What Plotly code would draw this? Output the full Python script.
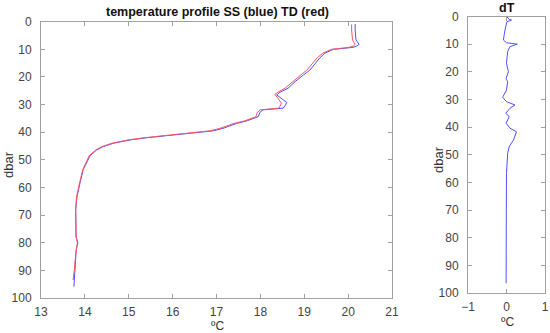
import plotly.graph_objects as go

# SS (blue) profile
ss_depth = [0.8, 3, 6.6, 7.6, 8.2, 8.8, 9.3, 10, 11.4, 13, 14.5, 17.5, 19.3, 21.7, 24.1, 25.5, 26.5,
            27.7, 29.2, 30.2, 31.3, 31.9, 32.8, 34.4, 35.9, 36.8, 38.6, 39.5, 40.7, 42.0, 42.8, 44.0,
            45.2, 46.4, 48.5, 51.2, 53.6, 58.3, 63.4, 68, 73, 77.9, 80, 81, 82.6, 86, 89.8, 93, 95.9]
ss_temp = [20.16, 20.16, 20.18, 20.22, 20.25, 20.2, 20.11, 19.66, 19.47, 19.36, 19.28, 19.13, 18.98,
           18.79, 18.63, 18.45, 18.37, 18.48, 18.6, 18.57, 18.52, 18.06, 17.99, 17.95, 17.69, 17.46,
           17.15, 16.92, 16.17, 15.41, 15.03, 14.65, 14.42, 14.27, 14.12, 14.04, 13.96, 13.89,
           13.82, 13.79, 13.79, 13.8, 13.84, 13.82, 13.8, 13.79, 13.78, 13.76, 13.75]

# TD (red) profile
td_depth = [1, 3, 6.6, 7.6, 8.2, 8.8, 9.3, 10, 11.4, 13, 14.5, 17.5, 19.3, 21.7, 24.1, 25.5, 26.3,
            27.7, 29.5, 30.5, 31.3, 31.9, 32.8, 34.4, 35.9, 36.8, 38.6, 39.5, 40.7, 42.0, 42.8, 44.0,
            45.2, 46.4, 48.5, 51.2, 53.6, 58.3, 63.4, 68, 73, 77.9, 80, 81, 82.6, 86, 89.8, 93.5]
td_temp = [20.08, 20.08, 20.1, 20.13, 20.16, 20.12, 20.02, 19.62, 19.42, 19.3, 19.22, 19.06, 18.92,
           18.73, 18.56, 18.4, 18.33, 18.4, 18.48, 18.45, 18.42, 18.0, 17.93, 17.9, 17.64, 17.4,
           17.08, 16.85, 16.1, 15.35, 14.98, 14.61, 14.39, 14.25, 14.1, 14.02, 13.95, 13.88,
           13.81, 13.79, 13.79, 13.8, 13.83, 13.82, 13.8, 13.78, 13.76, 13.73]

# dT difference
dt_depth = [0, 1, 1.3, 1.9, 4.9, 8.5, 9.5, 10, 10.9, 12.7, 16.9, 20, 22.4, 23.6, 26.6, 29.2, 30.8,
            32, 33.2, 35, 36.2, 38.6, 40.4, 41.7, 44.7, 47, 49.5, 56.7, 70, 85, 96.5]
dt_val = [0, 0.07, 0.13, 0.01, -0.04, -0.08, 0.0, 0.28, 0.09, 0.03, 0.0, 0.05, -0.01, 0.03, 0.0,
          -0.1, 0.0, 0.22, 0.09, -0.02, 0.07, -0.01, 0.09, 0.26, 0.18, 0.07, 0.03, 0.0, -0.005,
          -0.01, -0.01]

y_ticks = [0, 10, 20, 30, 40, 50, 60, 70, 80, 90, 100]
x1_ticks = [13, 14, 15, 16, 17, 18, 19, 20, 21]
x2_ticks = [-1, 0, 1]

blue = "rgb(80,80,255)"
red = "rgb(255,80,100)"
gray = "#a0a0a0"
FONT = "Liberation Sans, Arial, sans-serif"
tickfont = dict(family=FONT, size=12, color="#444")

W = 545.0  # plot-area width (550 minus right margin)

fig = go.Figure()
fig.add_trace(go.Scatter(x=ss_temp, y=ss_depth, mode="lines", line=dict(color=blue, width=1),
                         xaxis="x", yaxis="y", showlegend=False))
fig.add_trace(go.Scatter(x=td_temp, y=td_depth, mode="lines", line=dict(color=red, width=1),
                         xaxis="x", yaxis="y", showlegend=False))
fig.add_trace(go.Scatter(x=dt_val, y=dt_depth, mode="lines", line=dict(color=blue, width=1),
                         xaxis="x2", yaxis="y2", showlegend=False))

axis_common = dict(showline=True, mirror="ticks", ticks="inside", ticklen=4, linecolor=gray,
                   tickcolor=gray, linewidth=1, showgrid=False, zeroline=False, tickfont=tickfont,
                   automargin=False)

fig.update_layout(
    width=550, height=333,
    margin=dict(l=0, r=5, t=0, b=0),
    paper_bgcolor="white", plot_bgcolor="white",
    xaxis=dict(domain=[41 / W, 392 / W], range=[13, 21], tickvals=x1_ticks,
               anchor="y", ticklabelstandoff=3, **axis_common),
    yaxis=dict(domain=[35 / 333, 311.3 / 333], range=[100, 0], tickvals=y_ticks,
               anchor="x", ticklabelstandoff=6, **axis_common),
    xaxis2=dict(domain=[468 / W, 545 / W], range=[-1, 1], tickvals=x2_ticks,
                anchor="y2", ticklabelstandoff=3, ticklabeloverflow="allow", **axis_common),
    yaxis2=dict(domain=[40 / 333, 316.5 / 333], range=[100, 0], tickvals=y_ticks,
                anchor="x2", ticklabelstandoff=6, **axis_common),
    annotations=[
        dict(text="<b>temperature profile SS (blue) TD (red)</b>", x=217 / W, y=1 - 12 / 333,
             xref="paper", yref="paper", showarrow=False, xanchor="center", yanchor="middle",
             font=dict(family=FONT, size=12.5, color="#111")),
        dict(text="<b>dT</b>", x=507 / W, y=1 - 8 / 333,
             xref="paper", yref="paper", showarrow=False, xanchor="center", yanchor="middle",
             font=dict(family=FONT, size=12.5, color="#111")),
        dict(text="ºC", x=217 / W, y=1 - 326 / 333, xref="paper", yref="paper",
             showarrow=False, xanchor="center", yanchor="middle",
             font=dict(family=FONT, size=12, color="#333")),
        dict(text="ºC", x=507 / W, y=1 - 322 / 333, xref="paper", yref="paper",
             showarrow=False, xanchor="center", yanchor="middle",
             font=dict(family=FONT, size=12, color="#333")),
        dict(text="dbar", x=8 / W, y=1 - 165 / 333, xref="paper", yref="paper", textangle=-90,
             showarrow=False, xanchor="center", yanchor="middle",
             font=dict(family=FONT, size=13, color="#333")),
        dict(text="dbar", x=438 / W, y=1 - 160 / 333, xref="paper", yref="paper", textangle=-90,
             showarrow=False, xanchor="center", yanchor="middle",
             font=dict(family=FONT, size=13, color="#333")),
    ],
)

fig.write_html("out.html", config={"displayModeBar": False},
               post_script="document.body.style.margin='0px';")
